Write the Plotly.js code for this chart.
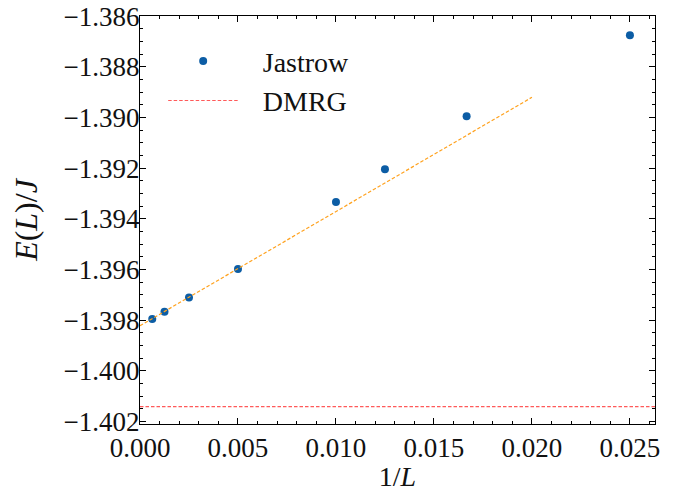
<!DOCTYPE html>
<html>
<head>
<meta charset="utf-8">
<script src="https://cdn.plot.ly/plotly-3.0.1.min.js"></script>
<style>html,body{margin:0;padding:0;background:#fff;}#chart{width:684px;height:492px;}</style>
</head>
<body>
<div id="chart"></div>
<script>
// Data
const invL = [0.000625, 0.00125, 0.0025, 0.005, 0.01, 0.0125, 0.016667, 0.025];
const energyJastrow = [-1.39795, -1.39767, -1.39711, -1.39598, -1.39333, -1.39204, -1.38995, -1.38675];
const dmrgX = [0, 0.02628];
const dmrgY = [-1.40141, -1.40141];
const fitX = [0, 0.02];
const fitY = [-1.39822, -1.38920];
const seriesNames = ['Jastrow', 'DMRG'];

const FONT = "'Liberation Serif', 'DejaVu Serif', serif";
const TXT = '#111';
const PAD = '\u2002\u2009';

const traces = [
  {x: invL, y: energyJastrow, type: 'scatter', mode: 'markers', name: PAD + seriesNames[0],
   marker: {color: '#0C5DA5', size: 8}},
  {x: dmrgX, y: dmrgY, type: 'scatter', mode: 'lines', name: PAD + seriesNames[1],
   line: {color: '#FF5A5A', width: 1.2, dash: '3.5px,2px'}},
  {x: fitX, y: fitY, type: 'scatter', mode: 'lines', name: 'fit', showlegend: false,
   line: {color: '#FFA21F', width: 1.2, dash: '3.5px,2px'}}
];

const axisCommon = {
  showgrid: false, zeroline: false, showline: true, linecolor: '#000', linewidth: 1,
  mirror: 'allticks', ticks: 'inside', ticklen: 6, tickwidth: 1, tickcolor: '#000',
  tickfont: {family: FONT, size: 27, color: TXT}
};

const layout = {
  width: 684, height: 492,
  margin: {l: 140, r: 29, t: 16, b: 68},
  paper_bgcolor: '#fff', plot_bgcolor: '#fff',
  font: {family: FONT, color: TXT},
  showlegend: true,
  legend: {x: 0.045, y: 0.95, xanchor: 'left', yanchor: 'top', bgcolor: 'rgba(0,0,0,0)',
           font: {family: FONT, size: 28, color: TXT}, itemwidth: 70, tracegroupgap: 0},
  xaxis: Object.assign({}, axisCommon, {
    range: [0, 0.02628], tick0: 0, dtick: 0.005, tickformat: '.3f', automargin: false,
    minor: {dtick: 0.001, ticks: 'inside', ticklen: 3, tickcolor: '#000', showgrid: false},
    title: {text: '1/<i>L</i>', font: {family: FONT, size: 28, color: TXT}, standoff: 9}
  }),
  yaxis: Object.assign({}, axisCommon, {
    range: [-1.4021, -1.38599], tick0: -1.4, dtick: 0.002, tickformat: '.3f', automargin: false,
    ticklabelstandoff: -6,
    minor: {dtick: 0.0005, ticks: 'inside', ticklen: 3, tickcolor: '#000', showgrid: false},
    title: {text: '<i>E</i>(<i>L</i>)/<i>J</i>', font: {family: FONT, size: 32, color: TXT}, standoff: 16}
  })
};

Plotly.newPlot('chart', traces, layout, {staticPlot: true, displayModeBar: false});
</script>
</body>
</html>
